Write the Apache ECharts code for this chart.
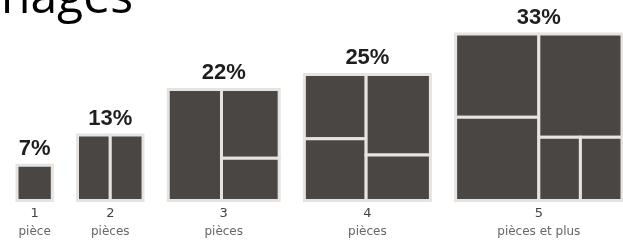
<!DOCTYPE html>
<html>
<head>
<meta charset="utf-8">
<script src="https://cdn.jsdelivr.net/npm/echarts@6/dist/echarts.min.js"></script>
<style>
  html, body { margin: 0; padding: 0; background: #fff; }
  #main { width: 623px; height: 244px; }
</style>
</head>
<body>
<div id="main"></div>
<script>
// données
var nbPieces = ['1', '2', '3', '4', '5'];
var libelles = ['pièce', 'pièces', 'pièces', 'pièces', 'pièces et plus'];
var parts = [7, 13, 22, 25, 33];

var ECART = 5; // espace entre les carrés, en unités d'axe

// découpage de chaque carré en pièces (fractions du carré : x, y, w, h)
var decoupes = [
    [[0, 0, 1, 1]],
    [[0, 0, 0.5, 1], [0.5, 0, 0.5, 1]],
    [[0, 0, 0.48, 1], [0.48, 0, 0.52, 0.62], [0.48, 0.62, 0.52, 0.38]],
    [[0, 0, 0.49, 0.51], [0, 0.51, 0.49, 0.49], [0.49, 0, 0.51, 0.64], [0.49, 0.64, 0.51, 0.36]],
    [[0, 0, 0.5, 0.5], [0, 0.5, 0.5, 0.5], [0.5, 0, 0.5, 0.62], [0.5, 0.62, 0.25, 0.38], [0.75, 0.62, 0.25, 0.38]]
];

var donnees = [];
var cumul = 0;
parts.forEach(function (p, i) {
    donnees.push([cumul, p]);
    cumul += p + ECART;
});

function renderItem(params, api) {
    var i = params.dataIndex;
    var gauche = api.value(0), v = api.value(1);
    var bas = api.coord([gauche, 0]);
    var taille = api.size([v, v]);
    var w = taille[0], h = taille[1];
    var x0 = bas[0], y0 = bas[1] - h;
    var enfants = decoupes[i].map(function (c) {
        return {
            type: 'rect',
            shape: { x: x0 + c[0] * w, y: y0 + c[1] * h, width: c[2] * w, height: c[3] * h },
            style: { fill: '#4a4644', stroke: '#e6e3e0', lineWidth: 3 }
        };
    });
    enfants.push({
        type: 'text', x: x0 + w / 2, y: y0 - 16.5,
        style: {
            text: v + '%', fill: '#1e1e1e', align: 'center', verticalAlign: 'middle',
            font: 'bold 22px "Liberation Sans", Arial, sans-serif'
        }
    });
    enfants.push({
        type: 'text', x: x0 + w / 2, y: bas[1] + 13,
        style: {
            text: nbPieces[i], fill: '#444', align: 'center', verticalAlign: 'middle',
            font: '13px "DejaVu Sans", sans-serif'
        }
    });
    enfants.push({
        type: 'text', x: x0 + w / 2, y: bas[1] + 31,
        style: {
            text: libelles[i], fill: '#666', align: 'center', verticalAlign: 'middle',
            font: '12px "DejaVu Sans", sans-serif'
        }
    });
    return { type: 'group', children: enfants };
}

var myChart = echarts.init(document.getElementById('main'));
var option = {
    animation: false,
    grid: { left: 17, top: 24, width: 605, height: 176.5 },
    xAxis: { type: 'value', min: 0, max: 120, show: false },
    yAxis: { type: 'value', min: 0, max: 35, show: false },
    graphic: [{
        type: 'text', x: 133, y: -1,
        style: {
            text: 'Ménages', fill: '#000', align: 'right', verticalAlign: 'middle',
            font: '48px "Open Sans", sans-serif'
        }
    }],
    series: [{
        type: 'custom',
        renderItem: renderItem,
        clip: false,
        data: donnees
    }]
};
myChart.setOption(option);
</script>
</body>
</html>
